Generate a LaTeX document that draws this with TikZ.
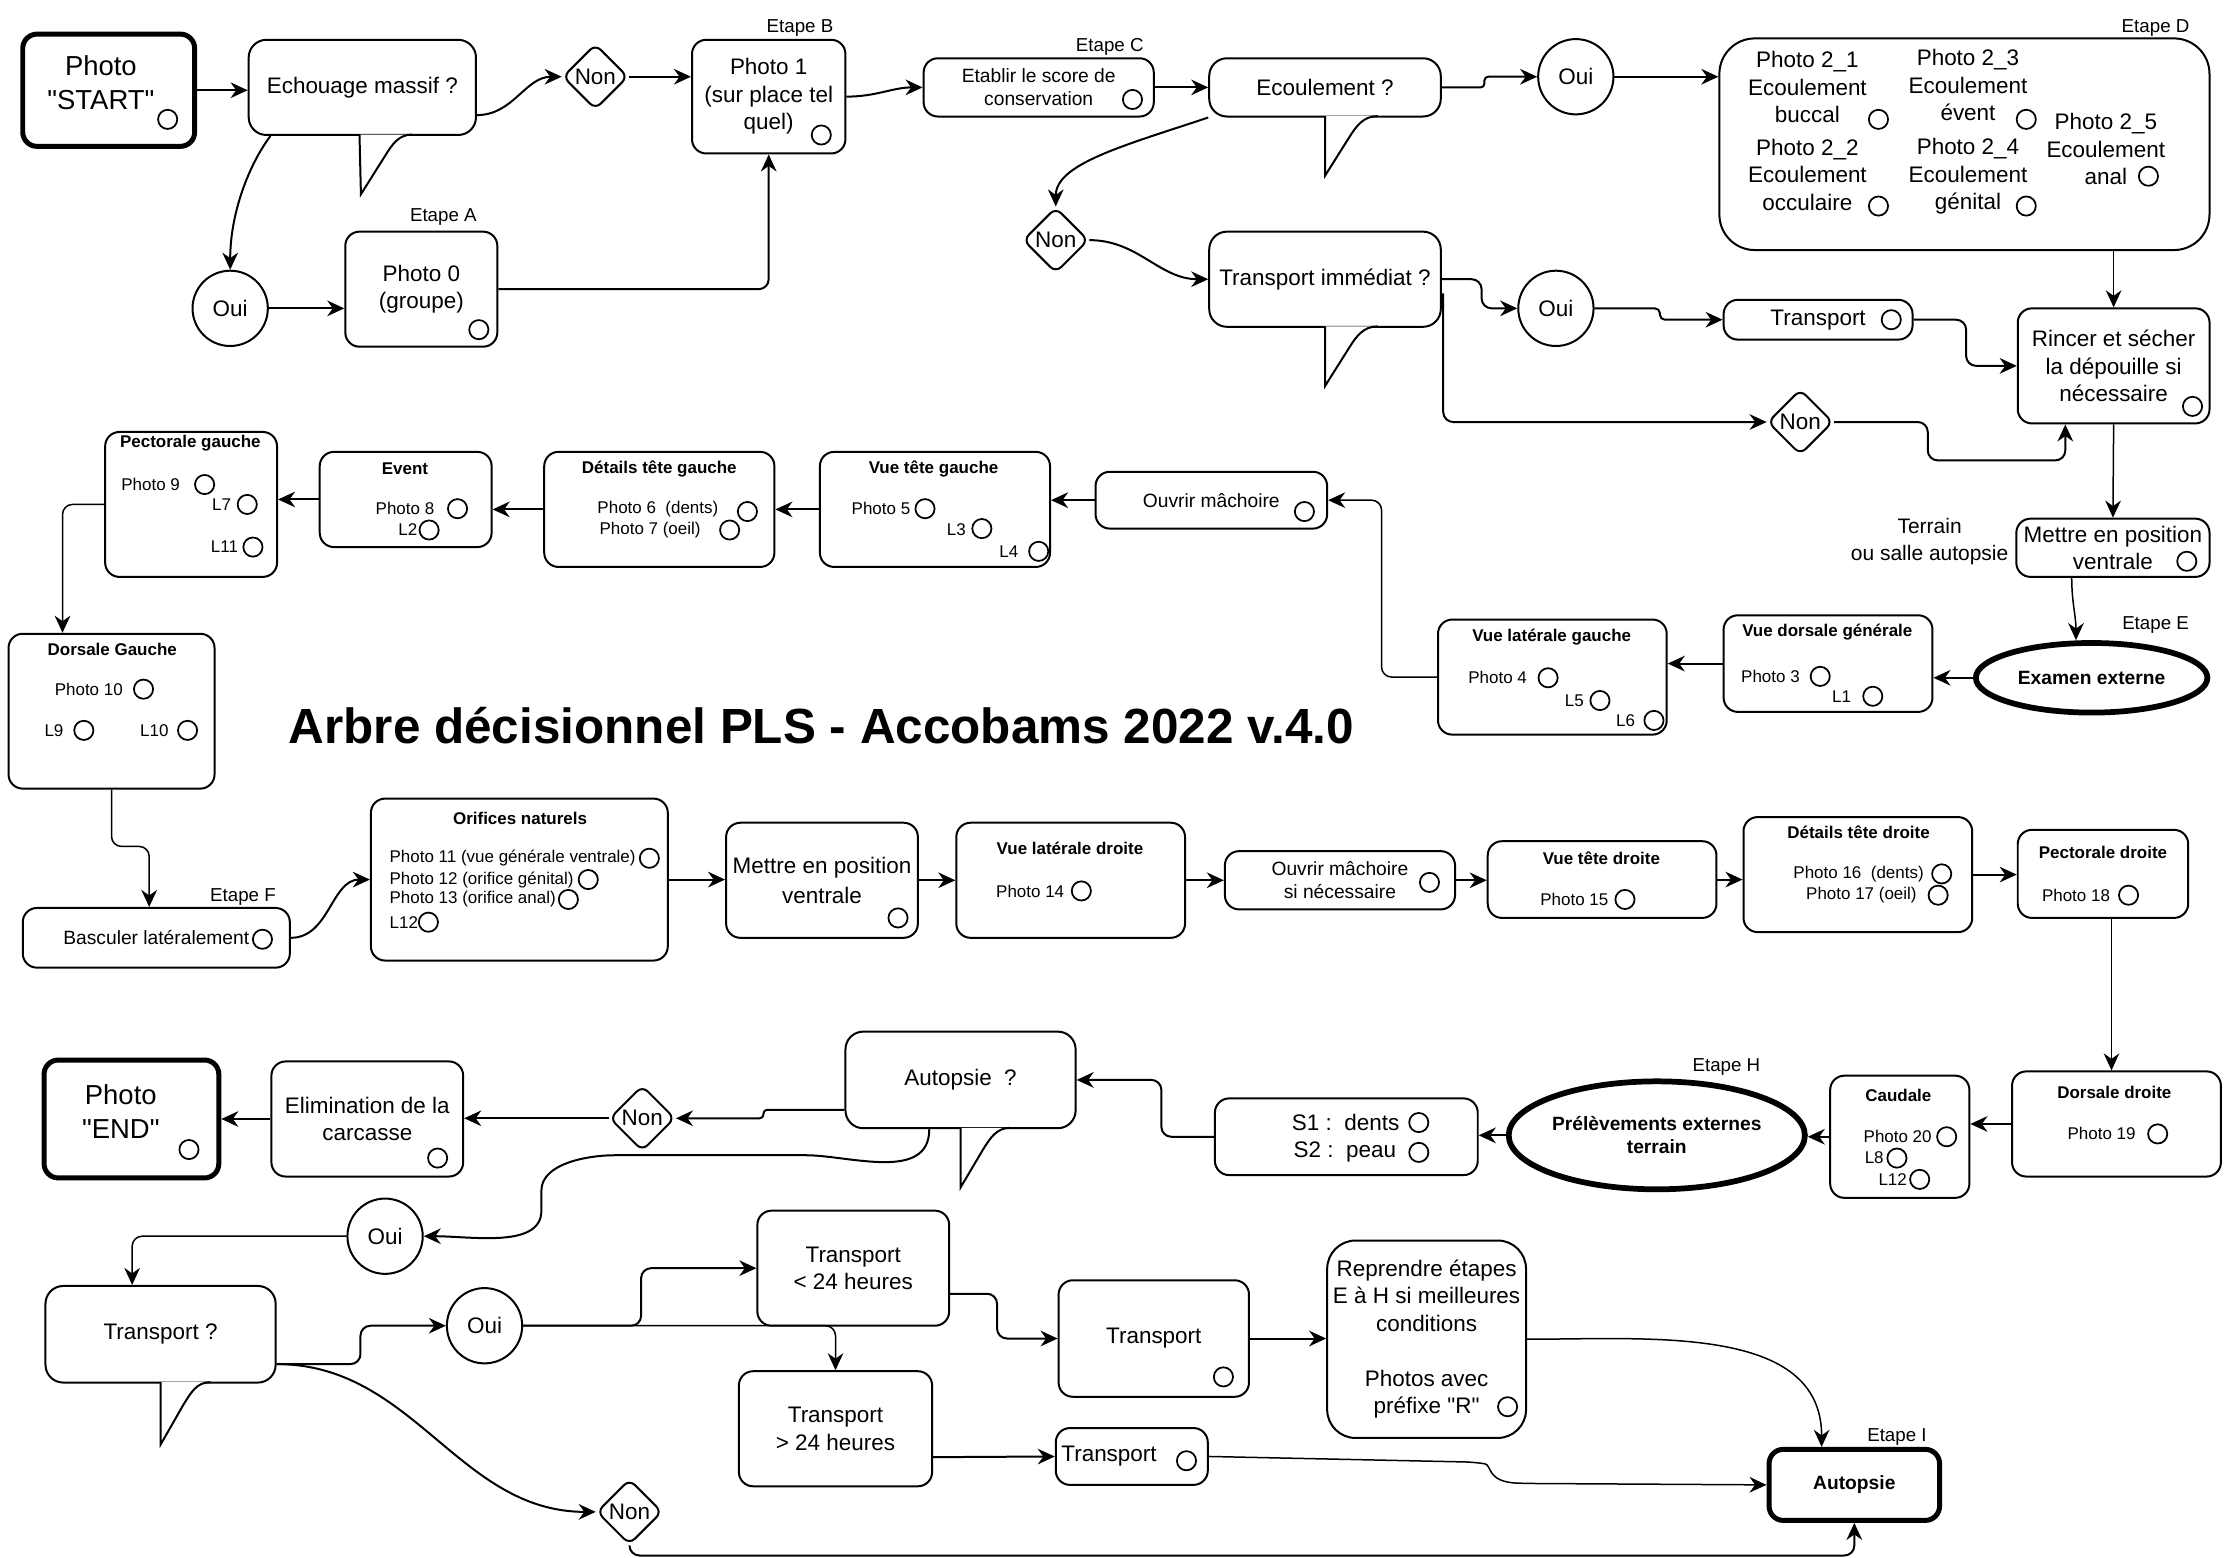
\documentclass[tikz,border=0pt]{standalone}
\usepackage{fontspec}
\setmainfont{Liberation Sans}
\usetikzlibrary{shapes.geometric,arrows.meta,calc,positioning}

\newcommand\fbig{\fontsize{11}{13.6}\selectfont}
\newcommand\fmain{\fontsize{9}{11}\selectfont}
\newcommand\fmid{\fontsize{7.7}{9.2}\selectfont}
\newcommand\fsmall{\fontsize{6.8}{8.5}\selectfont}
\newcommand\fetape{\fontsize{7.5}{9}\selectfont}

\begin{document}
\begin{tikzpicture}[x=0.02cm, y=-0.02cm,
    box/.style={draw, line width=0.8pt, rounded corners=0.2cm, inner sep=0pt, align=center},
    endbox/.style={box, line width=2pt},
    bulle/.style={box, rounded corners=0.25cm, font=\fmain},
    rep/.style={draw, circle, line width=0.8pt, minimum size=1.06cm, inner sep=0pt, font=\fmain},
    losange/.style={draw, diamond, rounded corners=3pt, line width=0.8pt, inner sep=0pt,
        minimum width=0.92cm, minimum height=0.92cm, font=\fmain},
    ovale/.style={draw, ellipse, line width=2.3pt, inner sep=0pt, align=center, font=\fmid\bfseries},
    chk/.style={draw, circle, line width=0.7pt, minimum size=0.27cm, inner sep=0pt},
    tbold/.style={font=\fsmall\bfseries},
    tsmall/.style={font=\fsmall},
    tmain/.style={font=\fmain, align=center},
    etape/.style={font=\fetape},
    arr/.style={-{Stealth[length=2.4mm,width=2.2mm]}, line width=0.8pt, rounded corners=4pt},
    arrthin/.style={arr, line width=0.6pt},
    tail/.style={draw, fill=white, line width=0.8pt}
]
\useasboundingbox (0,0) rectangle (1568,1096);

% top row
\node[endbox, minimum width=2.42cm, minimum height=1.58cm] (a1) at (76.5,63.5) {};
\node[font=\fbig, align=center] (t1) at (71,58) {Photo\\\textquotedbl START\textquotedbl};
\node[chk] (o1) at (118,84) {};
\node[bulle, minimum width=3.2cm, minimum height=1.34cm] (a2) at (255,61.5) {Echouage massif ?};
\node[losange] (a3) at (419,54) {Non};
\node[box, minimum width=2.16cm, minimum height=1.6cm, font=\fmain] (a4) at (541,68) {Photo 1\\(sur place tel\\quel)};
\node[chk] (o2) at (578,95) {};
\node[etape] (e1) at (563,20) {Etape B};
\node[box, minimum width=3.24cm, minimum height=0.82cm, font=\fmid] (a5) at (731,61.5) {Etablir le score de\\conservation};
\node[chk] (o3) at (797,70) {};
\node[etape] (e2) at (781,33) {Etape C};
\node[bulle, minimum width=3.26cm, minimum height=0.82cm] (a6) at (932.5,61.5) {Ecoulement ?};
\node[rep] (a7) at (1109,54) {Oui};
\node[box, rounded corners=0.5cm, minimum width=6.9cm, minimum height=2.98cm] (a8) at (1382.5,101.5) {};
\node[etape] (e3) at (1517,20) {Etape D};
\node[tmain] (t2) at (1272,61.5) {Photo 2\_1\\Ecoulement\\buccal};
\node[chk] (o4) at (1322,84) {};
\node[tmain] (t3) at (1385,60) {Photo 2\_3\\Ecoulement\\évent};
\node[chk] (o5) at (1426,84) {};
\node[tmain] (t4) at (1272,123) {Photo 2\_2\\Ecoulement\\occulaire};
\node[chk] (o6) at (1322,145) {};
\node[tmain] (t5) at (1385,124) {Photo 2\_4\\Ecoulement\\génital};
\node[chk] (o7) at (1426,145) {};
\node[tmain] (t6) at (1482,105) {Photo 2\_5\\Ecoulement\\anal};
\node[chk] (o8) at (1512,124) {};

% second row
\node[rep] (b1) at (162,217) {Oui};
\node[box, minimum width=2.14cm, minimum height=1.62cm, font=\fmain] (b2) at (296.5,203.5) {Photo 0\\(groupe)};
\node[chk] (o9) at (337,232) {};
\node[etape] (e4) at (312,153) {Etape A};
\node[losange] (b3) at (743,169) {Non};
\node[bulle, minimum width=3.26cm, minimum height=1.34cm] (b4) at (932.5,196.5) {Transport immédiat ?};
\node[rep] (b5) at (1095,217) {Oui};
\node[losange] (b6) at (1267,297) {Non};
\node[box, minimum width=2.66cm, minimum height=0.56cm, font=\fmain] (b7) at (1279.5,225) {Transport};
\node[chk] (o10) at (1331,225) {};
\node[box, minimum width=2.7cm, minimum height=1.62cm, font=\fmain] (b8) at (1487.5,257.5) {Rincer et sécher\\la dépouille si\\nécessaire};
\node[chk] (o11) at (1543,286) {};

% external exam, left side
\node[box, minimum width=2.72cm, minimum height=0.82cm, font=\fmain] (c1) at (1487,385.5) {Mettre en position\\ventrale};
\node[chk] (o12) at (1539,395) {};
\node[font=\fontsize{8.4}{10.8}\selectfont, align=center] (t7) at (1358,381) {Terrain\\ou salle autopsie};
\node[ovale, minimum width=3.26cm, minimum height=0.98cm] (c2) at (1472,477) {Examen externe};
\node[etape] (e5) at (1517,440) {Etape E};
\node[box, minimum width=2.94cm, minimum height=1.36cm] (c3) at (1286.5,467) {};
\node[tbold] (t8) at (1286,445) {Vue dorsale générale};
\node[tsmall] (t9) at (1246,476) {Photo 3};
\node[chk] (o13) at (1281,476) {};
\node[tsmall] (t10) at (1296,490) {L1};
\node[chk] (o14) at (1318,490) {};
\node[box, minimum width=3.22cm, minimum height=1.62cm] (c4) at (1092.5,476.5) {};
\node[tbold] (t11) at (1092,448) {Vue latérale gauche};
\node[tsmall] (t12) at (1054,477) {Photo 4};
\node[chk] (o15) at (1089.5,477) {};
\node[tsmall] (t13) at (1108,493) {L5};
\node[chk] (o16) at (1126,493) {};
\node[tsmall] (t14) at (1144,507.5) {L6};
\node[chk] (o17) at (1164,507) {};
\node[box, minimum width=3.26cm, minimum height=0.8cm, font=\fmid] (c5) at (852.5,352) {Ouvrir mâchoire};
\node[chk] (o18) at (918,360) {};
\node[box, minimum width=3.24cm, minimum height=1.62cm] (c6) at (658,358.5) {};
\node[tbold] (t15) at (657,330) {Vue tête gauche};
\node[tsmall] (t16) at (620,358) {Photo 5};
\node[chk] (o19) at (651,358) {};
\node[tsmall] (t17) at (673,372.5) {L3};
\node[chk] (o20) at (691,372) {};
\node[tsmall] (t18) at (710,388) {L4};
\node[chk] (o21) at (731,388) {};
\node[box, minimum width=3.24cm, minimum height=1.62cm] (c7) at (464,358.5) {};
\node[tbold] (t19) at (464,330) {Détails tête gauche};
\node[tsmall] (t20) at (463,358) {Photo 6\ \ (dents)};
\node[chk] (o22) at (526,360) {};
\node[tsmall] (t21) at (457.5,373) {Photo 7 (oeil)};
\node[chk] (o23) at (513.5,373) {};
\node[box, minimum width=2.42cm, minimum height=1.34cm] (c8) at (285.5,351.5) {};
\node[tbold] (t22) at (285,330) {Event};
\node[tsmall] (t23) at (285,358) {Photo 8};
\node[chk] (o24) at (322,358) {};
\node[tsmall] (t24) at (287,373) {L2};
\node[chk] (o25) at (302,373) {};
\node[box, minimum width=2.42cm, minimum height=2.04cm] (c9) at (134.5,355) {};
\node[tbold] (t25) at (134,312) {Pectorale gauche};
\node[tsmall] (t26) at (106,341) {Photo 9};
\node[chk] (o26) at (144,341) {};
\node[tsmall] (t27) at (156,355) {L7};
\node[chk] (o27) at (174,355) {};
\node[tsmall] (t28) at (158,385) {L11};
\node[chk] (o28) at (178,385) {};
\node[box, minimum width=2.9cm, minimum height=2.18cm] (c10) at (78.5,500.5) {};
\node[tbold] (t29) at (79,457) {Dorsale Gauche};
\node[tsmall] (t30) at (62.5,485) {Photo 10};
\node[chk] (o29) at (101,485) {};
\node[tsmall] (t31) at (38,514) {L9};
\node[chk] (o30) at (59,514) {};
\node[tsmall] (t32) at (108.6,514) {L10};
\node[chk] (o31) at (132,514) {};

\node[font=\fontsize{19.8}{23}\selectfont\bfseries] (title) at (578,511) {Arbre décisionnel PLS - Accobams 2022 v.4.0};

% right side of the animal
\node[box, minimum width=3.76cm, minimum height=0.84cm, font=\fmid] (c11) at (110,660) {Basculer latéralement};
\node[chk] (o32) at (184.7,661) {};
\node[etape] (e6) at (171,631) {Etape F};
\node[box, minimum width=4.18cm, minimum height=2.28cm] (c12) at (365.5,619) {};
\node[tbold] (t33) at (366,576) {Orifices naturels};
\node[tsmall, anchor=west] (t34) at (268,604) {Photo 11 (vue générale ventrale)};
\node[chk] (o33) at (457,604) {};
\node[tsmall, anchor=west] (t35) at (268,619) {Photo 12 (orifice génital)};
\node[chk] (o34) at (414,619) {};
\node[tsmall, anchor=west] (t36) at (268,633) {Photo 13 (orifice anal)};
\node[chk] (o35) at (400,633) {};
\node[tsmall, anchor=west] (t37) at (268,649) {L12};
\node[chk] (o36) at (301.5,649) {};
\node[box, minimum width=2.7cm, minimum height=1.62cm, font=\fmain] (c13) at (578.5,619.5) {Mettre en position\\[1pt]ventrale};
\node[chk] (o37) at (632,646) {};
\node[box, minimum width=3.22cm, minimum height=1.62cm] (c14) at (753.5,619.5) {};
\node[tbold] (t38) at (753,597) {Vue latérale droite};
\node[tsmall] (t39) at (725,627) {Photo 14};
\node[chk] (o38) at (761,627) {};
\node[box, minimum width=3.24cm, minimum height=0.82cm, font=\fmid] (c15) at (943,619.5) {Ouvrir mâchoire\\si nécessaire};
\node[chk] (o39) at (1006,621) {};
\node[box, minimum width=3.22cm, minimum height=1.08cm] (c16) at (1127.5,619) {};
\node[tbold] (t40) at (1127,604) {Vue tête droite};
\node[tsmall] (t41) at (1108,633) {Photo 15};
\node[chk] (o40) at (1143.6,633) {};
\node[box, minimum width=3.22cm, minimum height=1.62cm] (c17) at (1307.5,615.5) {};
\node[tbold] (t42) at (1308,586) {Détails tête droite};
\node[tsmall] (t43) at (1308,615) {Photo 16\ \ (dents)};
\node[chk] (o41) at (1366.5,615) {};
\node[tsmall] (t44) at (1310,630) {Photo 17 (oeil)};
\node[chk] (o42) at (1364,630) {};
\node[box, minimum width=2.4cm, minimum height=1.24cm] (c18) at (1480,615) {};
\node[tbold] (t45) at (1480,600) {Pectorale droite};
\node[tsmall] (t46) at (1461,630) {Photo 18};
\node[chk] (o43) at (1498,630) {};
\node[box, minimum width=2.94cm, minimum height=1.48cm] (c19) at (1489.5,791) {};
\node[tbold] (t47) at (1488,769) {Dorsale droite};
\node[tsmall] (t48) at (1479,798) {Photo 19};
\node[chk] (o44) at (1518.5,798) {};
\node[box, minimum width=1.96cm, minimum height=1.72cm] (c20) at (1337,800) {};
\node[tbold] (t49) at (1336,771) {Caudale};
\node[tsmall] (t50) at (1335.5,800) {Photo 20};
\node[chk] (o45) at (1370,800) {};
\node[tsmall] (t51) at (1319,815) {L8};
\node[chk] (o46) at (1335,815) {};
\node[tsmall] (t52) at (1332,830) {L12};
\node[chk] (o47) at (1351,830) {};
\node[ovale, minimum width=3.28cm, minimum height=1.52cm] (c21) at (1166,799) {Prélèvements externes\\terrain};
\node[etape] (e7) at (1215,751) {Etape H};
\node[box, minimum width=3.7cm, minimum height=1.08cm] (c22) at (947.5,800) {};
\node[font=\fmain] (t53) at (947,790) {S1 :\ \ dents};
\node[chk] (o48) at (998.5,790) {};
\node[font=\fmain] (t54) at (946.5,811) {S2 :\ \ peau};
\node[chk] (o49) at (998.5,811) {};
\node[bulle, minimum width=3.24cm, minimum height=1.36cm] (c23) at (676,760) {Autopsie\ \ ?};
\node[losange] (c24) at (452,787) {Non};
\node[box, minimum width=2.7cm, minimum height=1.62cm, font=\fmain] (c25) at (258.5,787.5) {Elimination de la\\carcasse};
\node[chk] (o50) at (308,815) {};
\node[endbox, minimum width=2.46cm, minimum height=1.66cm] (c26) at (92.5,787.5) {};
\node[font=\fbig, align=center] (t55) at (85,782.5) {Photo\\\textquotedbl END\textquotedbl};
\node[chk] (o51) at (133,809) {};

% transport towards autopsy
\node[rep] (d1) at (271,870) {Oui};
\node[bulle, minimum width=3.24cm, minimum height=1.36cm] (d2) at (113,939) {Transport ?};
\node[rep] (d3) at (341,933) {Oui};
\node[box, minimum width=2.7cm, minimum height=1.62cm, font=\fmain] (d4) at (600.5,892.5) {Transport\\< 24 heures};
\node[box, minimum width=2.72cm, minimum height=1.62cm, font=\fmain] (d5) at (588,1005.5) {Transport\\> 24 heures};
\node[losange] (d6) at (443,1064) {Non};
\node[box, minimum width=2.68cm, minimum height=1.64cm, font=\fmain] (d7) at (812,942) {Transport};
\node[chk] (o52) at (861,969) {};
\node[box, rounded corners=0.4cm, minimum width=2.8cm, minimum height=2.78cm, font=\fmain] (d8) at (1004,942.5) {Reprendre étapes\\E à H si meilleures\\conditions\\~\\Photos avec\\préfixe \textquotedbl R\textquotedbl};
\node[chk] (o53) at (1061,990) {};
\node[endbox, minimum width=2.4cm, minimum height=1cm, font=\fmid\bfseries] (d9) at (1305,1045) {Autopsie};
\node[etape] (e8) at (1335,1011) {Etape I};
\node[box, minimum width=2.14cm, minimum height=0.8cm] (d10) at (796.5,1025) {};
\node[font=\fmain] (t56) at (780.5,1025) {Transport};
\node[chk] (o54) at (835,1028) {};

% callout tails
\path[tail] ($(a2.south)+(-2,-1)$) -- ($(a2.south)+(-1,41)$) -- ($(a2.south)+(16,14)$) to[out=58,in=180] ($(a2.south)+(35,-1)$);
\path[tail] ($(a6.south)+(0,-1)$) -- ($(a6.south)+(0,41)$) -- ($(a6.south)+(17,14)$) to[out=58,in=180] ($(a6.south)+(37,-1)$);
\path[tail] ($(b4.south)+(0,-1)$) -- ($(b4.south)+(0,41)$) -- ($(b4.south)+(17,14)$) to[out=58,in=180] ($(b4.south)+(37,-1)$);
\path[tail] ($(c23.south)+(0,-1)$) -- ($(c23.south)+(0,41)$) -- ($(c23.south)+(16,14)$) to[out=58,in=180] ($(c23.south)+(35,-1)$);
\path[tail] ($(d2.south)+(0,-1)$) -- ($(d2.south)+(0,43)$) -- ($(d2.south)+(16,15)$) to[out=58,in=180] ($(d2.south)+(35,-1)$);

% connectors
\draw[arr] (a1.east) -- (a1.east -| a2.west);
\draw[arr] ($(a2.east)+(0,19.5)$) to[out=0,in=180] (a3.west);
\draw[arr] (a3.east) -- (a3.east -| a4.west);
\draw[arr] ($(a2.south west)+(16,0)$) .. controls +(-15,20) and +(0,-40) .. (b1.north);
\draw[arr] (b1.east) -- (b1.east -| b2.west);
\draw[arr] (b2.east) -| (a4.south);
\draw[arr] (a4.east) to[out=0,in=180] (a5.west);
\draw[arr] (a5.east) -- (a6.west);
\draw[arr, rounded corners=1.5pt] (a6.east) -- ++(30,0) |- (a7.west);
\draw[arr] (a7.east) -- (a7.east -| a8.west);
\draw[arr] (a6.south west) .. controls +(-60,20) and +(0,-30) .. (b3.north);
\draw[arr] (b3.east) to[out=0,in=180] (b4.west);
\draw[arr] (b4.east) -- ++(28,0) |- (b5.west);
\draw[arr] ($(b4.east)+(1,10)$) |- (b6.west);
\draw[arr, rounded corners=2pt] (b5.east) -- ++(46,0) |- (b7.west);
\draw[arr] (b7.east) -- ++(37,0) |- (b8.west);
\draw[arr] (b6.east) -- ++(66,0) -- ++(0,27) -| ($(b8.south)+(-34,0)$);
\draw[arrthin] (a8.south -| b8.north) -- (b8.north);
\draw[arrthin] (b8.south) -- (c1.north);
\draw[arrthin] ($(c1.south)+(-29,0)$) to[out=-90,in=90] ($(c2.north)+(-11,0)$);
\draw[arr] (c2.west) -- (c2.west -| c3.east);
\draw[arr] (c3.west) -- (c3.west -| c4.east);
\draw[arrthin] (c4.west) -- ++(-39,0) |- (c5.east);
\draw[arr] (c5.west) -- (c5.west -| c6.east);
\draw[arr] (c6.west) -- (c6.west -| c7.east);
\draw[arr] (c7.west) -- (c7.west -| c8.east);
\draw[arr] (c8.west) -- (c8.west -| c9.east);
\draw[arrthin] (c9.west) -| ($(c10.north)+(-34.5,0)$);
\draw[arrthin] (c10.south) -- ++(0,40) -| ($(c11.north)+(-5,0)$);
\draw[arr] (c11.east) to[out=0,in=180] (c12.west);
\draw[arr] (c12.east) -- (c12.east -| c13.west);
\draw[arr] (c13.east) -- (c13.east -| c14.west);
\draw[arr] (c14.east) -- (c14.east -| c15.west);
\draw[arr] (c15.east) -- (c15.east -| c16.west);
\draw[arr] (c16.east) -- (c16.east -| c17.west);
\draw[arr] (c17.east) -- (c17.east -| c18.west);
\draw[arrthin] ([xshift=0.12cm]c18.south) -- ([xshift=0.12cm]c18.south |- c19.north);
\draw[arr] (c19.west) -- (c19.west -| c20.east);
\draw[arr] (c20.west) -- (c20.west -| c21.east);
\draw[arr] (c21.west) -- (c21.west -| c22.east);
\draw[arr] (c22.west) -- ++(-37,0) |- (c23.east);
\draw[arr, rounded corners=1.5pt] ($(c23.west)+(0,21)$) -- ++(-57,0) |- (c24.east);
\draw[arr] (c24.west) -- (c24.west -| c25.east);
\draw[arr] (c25.west) -- (c25.west -| c26.east);
\draw[arr] ($(c23.south)+(-22,0)$) to[out=-90,in=0] (560,813) -- (440,813) to[out=180,in=90] (381,845) to[out=-90,in=0] (d1.east);
\draw[arrthin] (d1.west) -| ($(d2.north)+(-20,0)$);
\draw[arr] ($(d2.east)+(0,21)$) -- ++(59,0) |- (d3.west);
\draw[arr] (d3.east) -- ++(83,0) |- (d4.west);
\draw[arrthin] (d3.east) -| (d5.north);
\draw[arr] ($(d2.east)+(0,21)$) to[out=0,in=180] (d6.west);
\draw[arr] (d6.south) -- ++(0,7) -| (d9.south);
\draw[arr] ($(d4.east)+(0,18)$) -- ++(33,0) |- (d7.west);
\draw[arr] (d7.east) -- (d7.east -| d8.west);
\draw[arrthin] (d8.east) to[out=0,in=90] ($(d9.north)+(-23,0)$);
\draw[arr] ($(d5.east)+(0,20)$) -- (d10.west);
\draw[arrthin] (d10.east) -- (1038,1029) .. controls (1050,1031) and (1046,1043) .. (1075,1044) -- (d9.west);
\end{tikzpicture}
\end{document}
